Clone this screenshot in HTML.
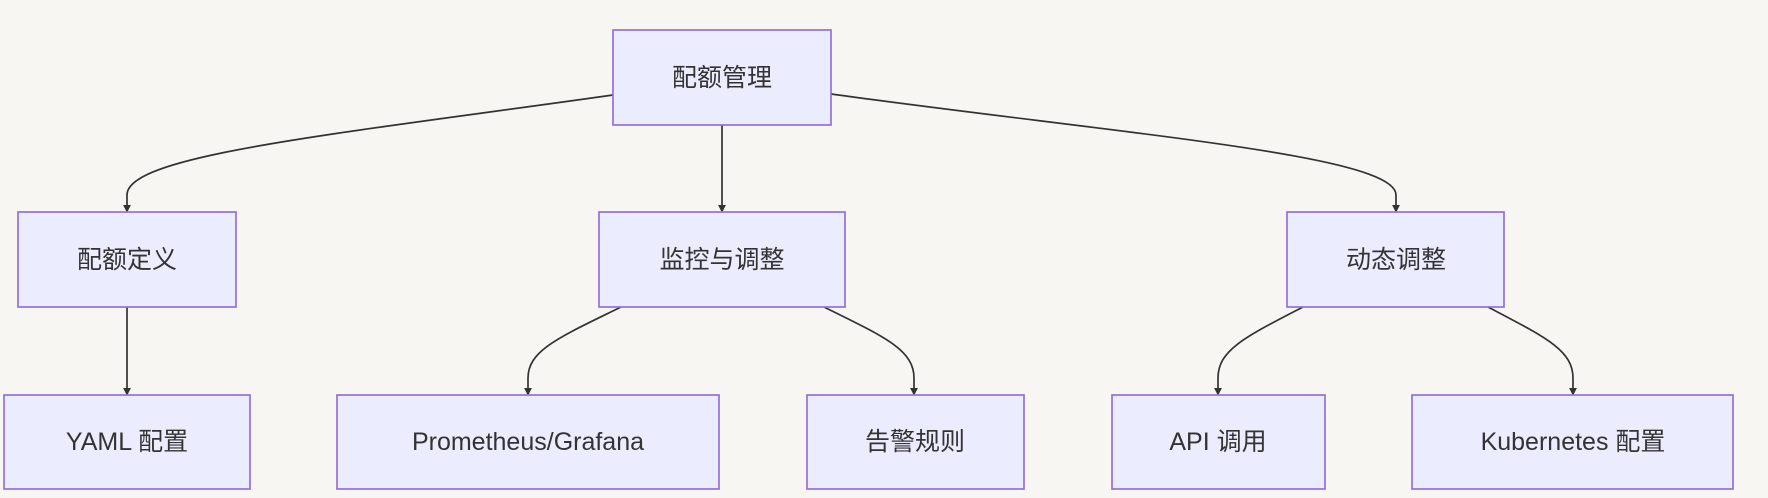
<!DOCTYPE html>
<html><head><meta charset="utf-8"><style>
body{margin:0;background:#f8f6f2;width:1768px;height:498px;overflow:hidden}
svg{display:block}
text{font-family:"Liberation Sans","Noto Sans CJK SC",sans-serif;font-size:25px;fill:#333;text-anchor:middle;dominant-baseline:central}
rect{fill:#ececff;stroke:#9370db;stroke-width:1.7}
path{fill:none;stroke:#333;stroke-width:1.7}
</style></head><body>
<svg width="1768" height="498" viewBox="0 0 1768 498">
<defs><marker id="a" viewBox="0 0 10 10" refX="9" refY="5" markerWidth="8" markerHeight="8" orient="auto" markerUnits="userSpaceOnUse"><path d="M0,0L10,5L0,10z" style="fill:#333;stroke:none"/></marker></defs>
<g marker-end="url(#a)">
<path d="M613,95 C330,135 127,155 127,195 L127,212"/>
<path d="M722,125 L722,212"/>
<path d="M831,94 C1130,135 1396,155 1396,195 L1396,212"/>
<path d="M127,307 L127,395"/>
<path d="M621,307 C560,337 528,350 528,378 L528,395"/>
<path d="M824,307 C885,337 914,350 914,378 L914,395"/>
<path d="M1303,307 C1245,337 1218,350 1218,378 L1218,395"/>
<path d="M1488,307 C1545,337 1573,350 1573,378 L1573,395"/>
</g>
<rect x="613" y="30" width="218" height="95"/><text x="722" y="78">配额管理</text>
<rect x="18" y="212" width="218" height="95"/><text x="127" y="260">配额定义</text>
<rect x="599" y="212" width="246" height="95"/><text x="722" y="260">监控与调整</text>
<rect x="1287" y="212" width="217" height="95"/><text x="1396" y="260">动态调整</text>
<rect x="4" y="395" width="246" height="94"/><text x="127" y="442">YAML 配置</text>
<rect x="337" y="395" width="382" height="94"/><text x="528" y="442">Prometheus/Grafana</text>
<rect x="807" y="395" width="217" height="94"/><text x="915" y="442">告警规则</text>
<rect x="1112" y="395" width="213" height="94"/><text x="1218" y="442">API 调用</text>
<rect x="1412" y="395" width="321" height="94"/><text x="1573" y="442">Kubernetes 配置</text>
</svg>
</body></html>
